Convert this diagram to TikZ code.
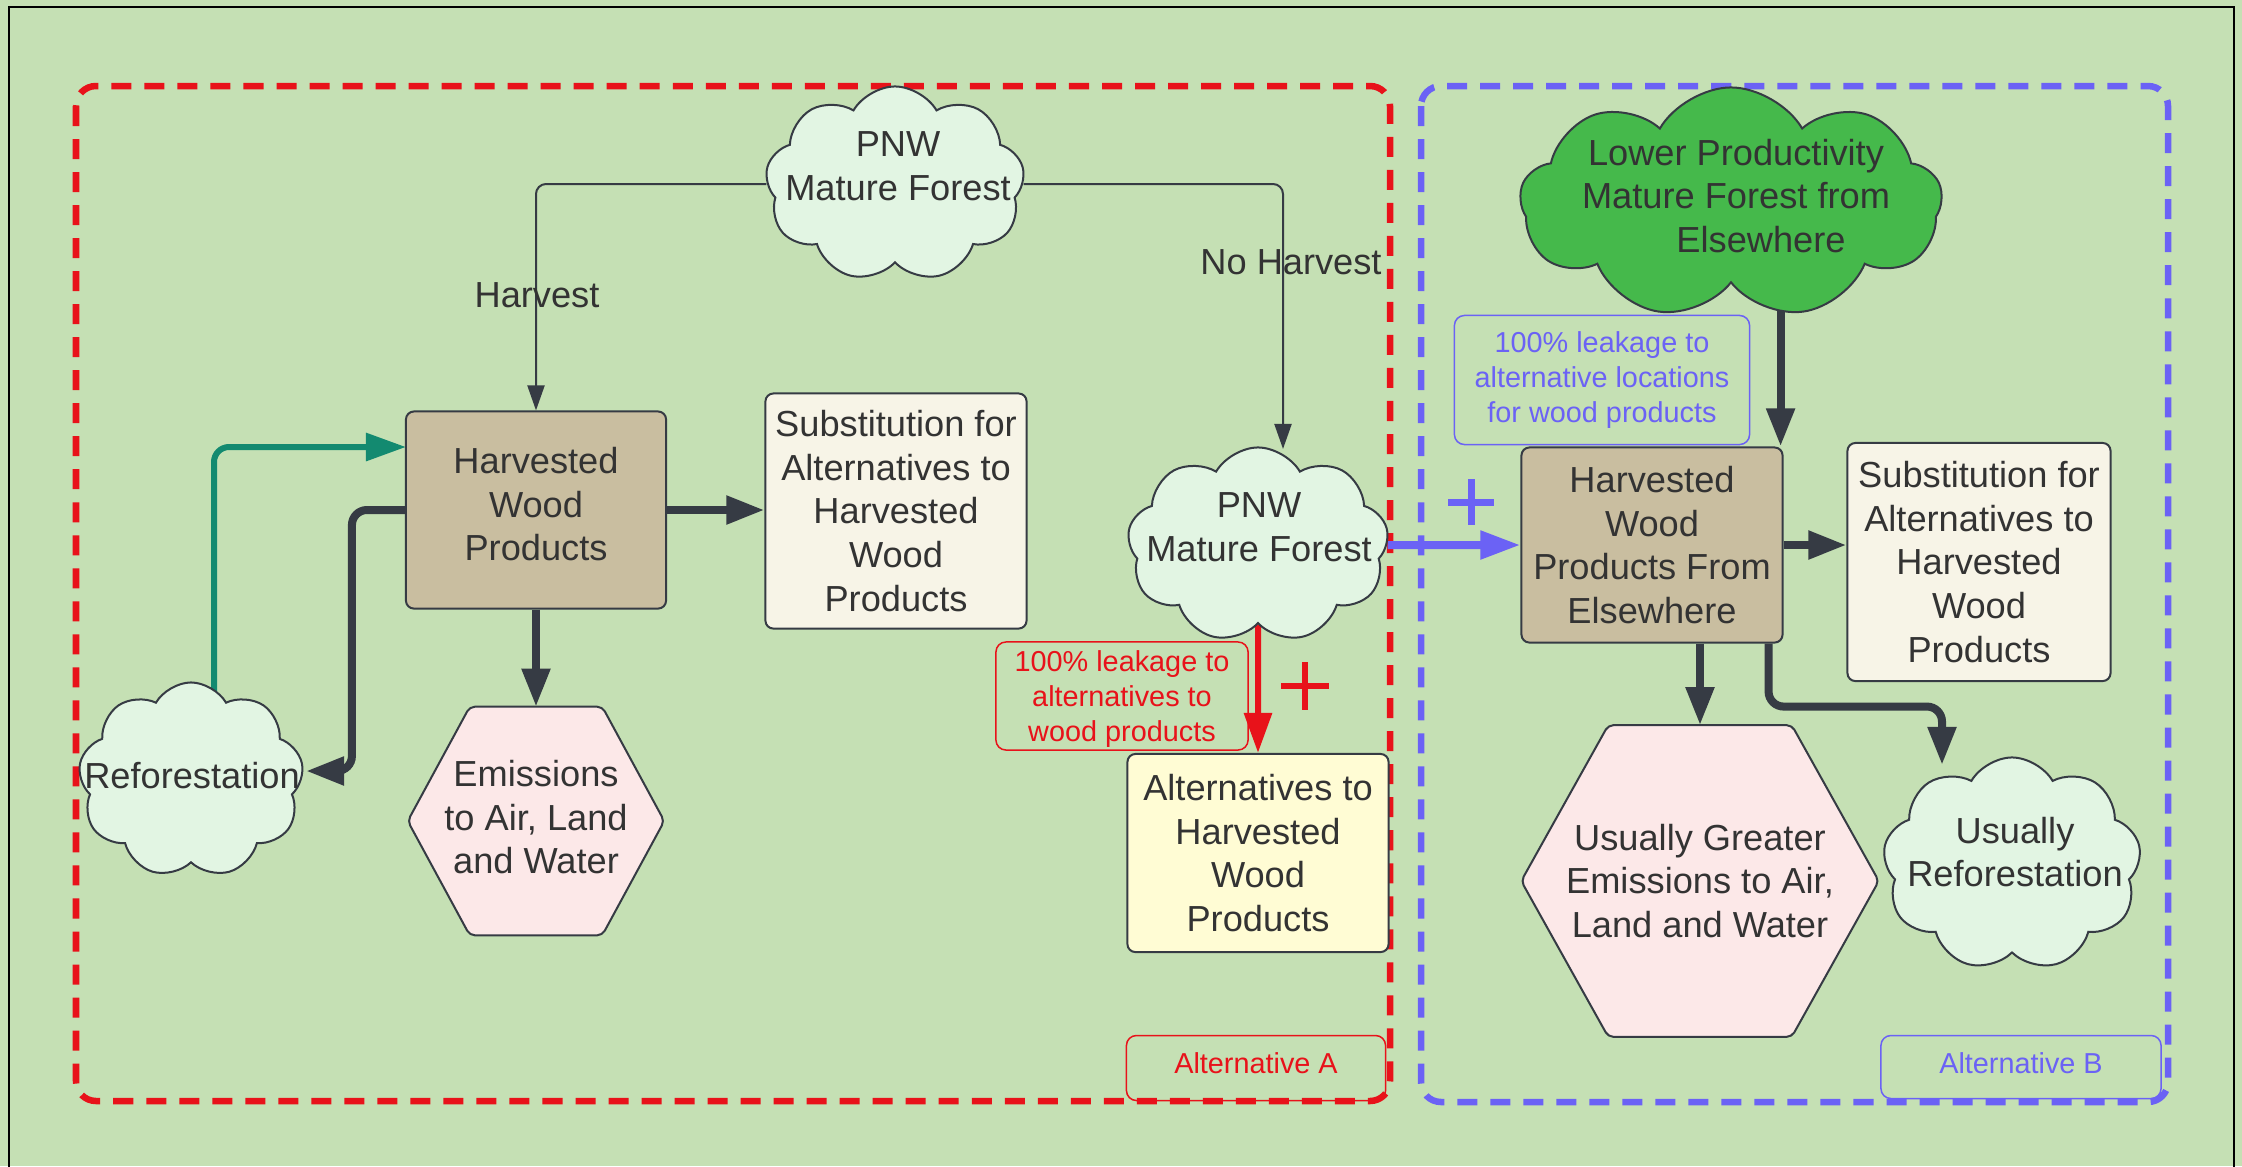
\documentclass[tikz,border=0pt]{standalone}
\usepackage{fontspec}
\setmainfont{Liberation Sans}
\usetikzlibrary{shapes.symbols, arrows.meta, calc}

\pgfdeclarelayer{back}
\pgfdeclarelayer{links}
\pgfdeclarelayer{hexes}
\pgfsetlayers{back,links,hexes,main}

\definecolor{paper}{HTML}{C5E0B4}
\definecolor{ink}{HTML}{363B44}
\definecolor{txt}{HTML}{333333}
\definecolor{mint}{HTML}{E2F5E3}
\definecolor{tan}{HTML}{C9BEA0}
\definecolor{cream}{HTML}{F7F4E7}
\definecolor{lemon}{HTML}{FFFCD4}
\definecolor{blush}{HTML}{FCE8E8}
\definecolor{leaf}{HTML}{45B94B}
\definecolor{tealink}{HTML}{138A70}
\definecolor{altred}{HTML}{E8121A}
\definecolor{altblue}{HTML}{6B62F5}

\tikzset{
  bodyfont/.style={font=\fontsize{10.3}{12.4}\selectfont, text=txt, align=center},
  smallfont/.style={font=\fontsize{8.2}{9.9}\selectfont, align=center},
  panel/.style={bodyfont, draw=ink, line width=0.02cm, rounded corners=0.08cm, inner sep=0pt},
  puff/.style={cloud, cloud puffs=9, cloud puff arc=120, cloud ignores aspect,
    draw=ink, line width=0.02cm, inner sep=0pt, fill=mint},
  hexslot/.style={bodyfont, inner sep=0pt},
  hexline/.style={draw=ink, line width=0.02cm, fill=blush, rounded corners=0.05cm},
  tagbox/.style={smallfont, draw, line width=0.015cm, rounded corners=0.1cm, inner sep=0pt},
  framedash/.style={line width=0.065cm, dash pattern=on 0.20cm off 0.13cm, rounded corners=0.2cm},
  thinlink/.style={draw=ink, line width=0.02cm, rounded corners=0.1cm,
    -{Triangle[length=0.25cm, width=0.17cm]}},
  heavylink/.style={draw=ink, line width=0.08cm, rounded corners=0.15cm,
    -{Triangle[length=0.38cm, width=0.27cm]}},
  greenlink/.style={draw=tealink, line width=0.06cm, rounded corners=0.15cm,
    -{Triangle[length=0.4cm, width=0.27cm]}},
  redlink/.style={draw=altred, line width=0.06cm,
    -{Triangle[length=0.4cm, width=0.27cm]}},
  bluelink/.style={draw=altblue, line width=0.08cm,
    -{Triangle[length=0.4cm, width=0.27cm]}},
}

\begin{document}
\begin{tikzpicture}[x=0.01cm, y=-0.01cm]
\useasboundingbox (0,0) rectangle (2242,1166);

% page, frame and the two scenario outlines
\begin{pgfonlayer}{back}
  \fill[paper] (0,0) rectangle (2242,1166);
  \draw[black, line width=0.025cm] (9,1180) -- (9,7) -- (2234,7) -- (2234,1180);
  \draw[altred, framedash] (76,86) rectangle (1390,1101);
  \draw[altblue, framedash] (1421,86) rectangle (2168,1102);
\end{pgfonlayer}

% ---- Alternative A ----
\node[puff, minimum width=2.59cm, minimum height=1.95cm] (pnw1) at (895,184) {};
\node[bodyfont] (pnw1t) at (898,166) {PNW\\Mature Forest};

\node[panel, fill=tan, minimum width=2.60cm, minimum height=1.97cm, text depth=0.12cm]
  (hwp) at (536,510) {Harvested\\Wood\\Products};
\node[panel, fill=cream, minimum width=2.61cm, minimum height=2.35cm] (subl) at (896,511)
  {Substitution for\\Alternatives to\\Harvested\\Wood\\Products};

\node[puff, minimum width=2.25cm, minimum height=1.95cm] (refo) at (191,780) {};
\node[bodyfont] (refot) at (192,776) {Reforestation};

\node[hexslot, minimum width=2.55cm, minimum height=2.27cm, text depth=0.08cm] (emis)
  at (536,821) {Emissions\\to Air, Land\\and Water};

\node[puff, minimum width=2.61cm, minimum height=1.95cm] (pnw2) at (1258,545) {};
\node[bodyfont] (pnw2t) at (1259,527) {PNW\\Mature Forest};

\node[tagbox, draw=altred, text=altred, minimum width=2.52cm, minimum height=1.08cm,
  text depth=0pt] (leakA) at (1122,696) {100\% leakage to\\alternatives to\\wood products};

\node[panel, fill=lemon, minimum width=2.61cm, minimum height=1.98cm] (alt) at (1258,853)
  {Alternatives to\\Harvested\\Wood\\Products};

\node[tagbox, draw=altred, text=altred, minimum width=2.59cm, minimum height=0.65cm,
  text depth=0.1cm] (labA) at (1256,1068) {Alternative A};

\node[bodyfont] (harv) at (537,295) {Harvest};
\node[bodyfont] (noharv) at (1291,262) {No Harvest};

% ---- Alternative B ----
\node[puff, fill=leaf, minimum width=4.22cm, minimum height=2.31cm] (lp) at (1731,203) {};
\node[bodyfont] (lpt) at (1736,196)
  {Lower Productivity\\Mature Forest from\\\hspace*{0.5cm}Elsewhere};

\node[tagbox, draw=altblue, text=altblue, minimum width=2.95cm, minimum height=1.29cm] (leakB)
  at (1602,380) {100\% leakage to\\alternative locations\\for wood products};

\node[panel, fill=tan, minimum width=2.61cm, minimum height=1.95cm] (hwpe) at (1652,545)
  {Harvested\\Wood\\Products From\\Elsewhere};
\node[panel, fill=cream, minimum width=2.63cm, minimum height=2.38cm] (subr) at (1979,562)
  {Substitution for\\Alternatives to\\Harvested\\Wood\\Products};

\node[hexslot, minimum width=3.56cm, minimum height=3.10cm] (hex2) at (1700,881)
  {Usually Greater\\Emissions to Air,\\Land and Water};

\node[puff, minimum width=2.58cm, minimum height=2.13cm] (refo2) at (2012,864) {};
\node[bodyfont] (refo2t) at (2015,852) {Usually\\Reforestation};

\node[tagbox, draw=altblue, text=altblue, minimum width=2.80cm, minimum height=0.63cm,
  text depth=0.08cm] (labB) at (2021,1067) {Alternative B};

% hexagon outlines behind their labels
\begin{pgfonlayer}{hexes}
  \draw[hexline] (emis.west) -- ($(emis.north west)+(62,0)$) -- ($(emis.north east)+(-62,0)$)
    -- (emis.east) -- ($(emis.south east)+(-62,0)$) -- ($(emis.south west)+(62,0)$) -- cycle;
  \draw[hexline] (hex2.west) -- ($(hex2.north west)+(87,0)$) -- ($(hex2.north east)+(-87,0)$)
    -- (hex2.east) -- ($(hex2.south east)+(-87,0)$) -- ($(hex2.south west)+(87,0)$) -- cycle;
\end{pgfonlayer}

% connector end points
\coordinate (pnw2in) at (1283,449);
\coordinate (refoin) at (306,771);
\coordinate (hwpin) at (406,447);
\coordinate (greenout) at (214,780);
\coordinate (lpin) at ([xshift=-0.03cm]hwpe.north east);
\coordinate (hwpeout) at ([xshift=-0.15cm]hwpe.south east);
\coordinate (refo2in) at (1942,765);

\begin{pgfonlayer}{links}
  \draw[thinlink] (pnw1.west) -| (hwp.north);
  \draw[thinlink] (pnw1.east) -| (pnw2in);
  \draw[heavylink] (hwp.east) -- (hwp.east -| subl.west);
  \draw[heavylink] (hwp.south) -- (emis.north);
  \draw[heavylink] (hwp.west) -- ++(-53,0) |- (refoin);
  \draw[greenlink] (greenout) |- (hwpin);
  \draw[redlink] (pnw2.south) -- (alt.north);
  \draw[bluelink] (pnw2.east) -- (hwpe.west);
  \draw[heavylink] (lpin |- lp.center) -- (lpin);
  \draw[heavylink] (hwpe.east) -- (hwpe.east -| subr.west);
  \draw[heavylink] (hwpe.south -| hex2.north) -- (hex2.north);
  \draw[heavylink] (hwpeout) -- ++(0,63) -| (refo2in);
\end{pgfonlayer}

% the two plus marks
\draw[altred, line width=0.065cm] (1281,686) -- (1329,686) (1305,662) -- (1305,710);
\draw[altblue, line width=0.07cm] (1448,502) -- (1494,502) (1471,479) -- (1471,525);

\end{tikzpicture}
\end{document}
